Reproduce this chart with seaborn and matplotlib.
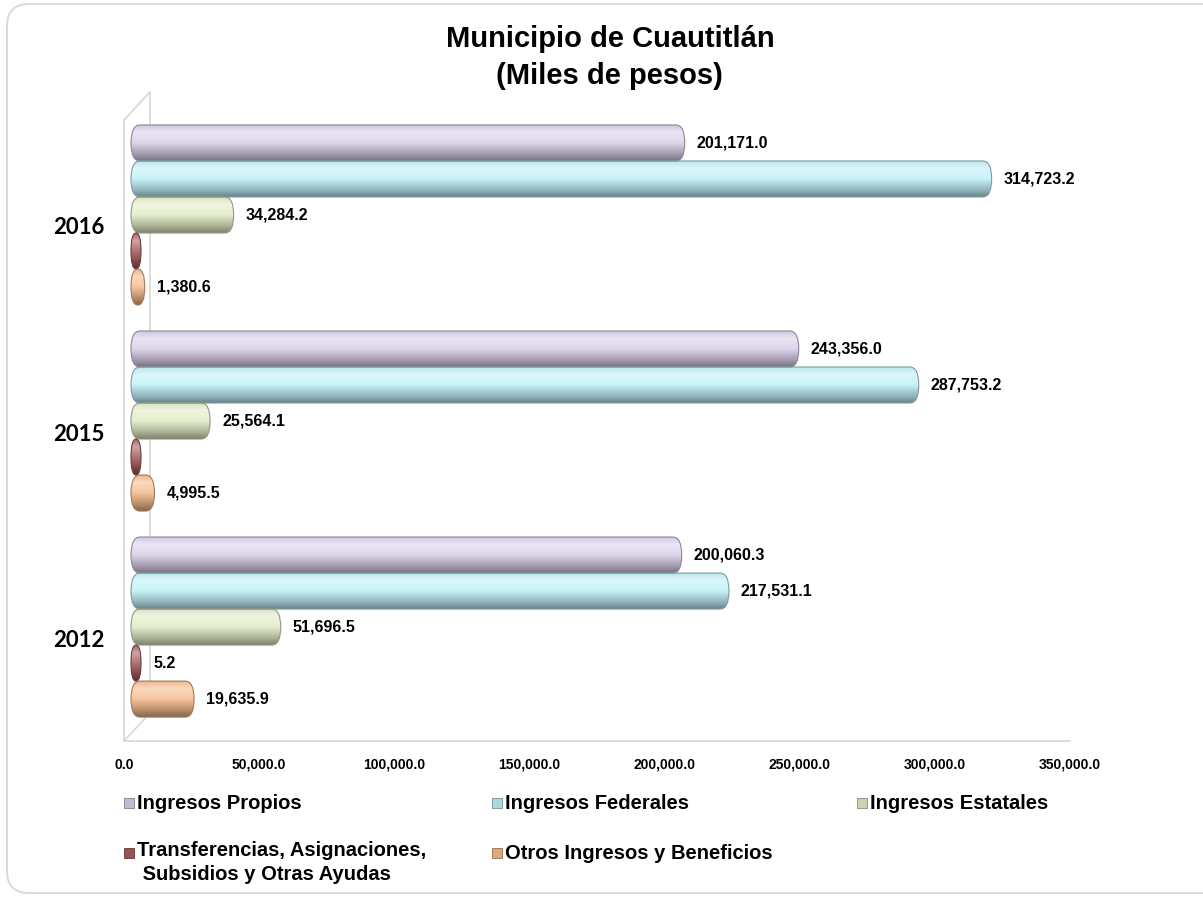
import numpy as np
import pandas as pd
import matplotlib
matplotlib.use("Agg")
import matplotlib.pyplot as plt
import seaborn as sns
from matplotlib.patches import FancyBboxPatch, Rectangle
from matplotlib.transforms import ScaledTranslation, IdentityTransform
from matplotlib.colors import to_rgb
from matplotlib import font_manager as fm

# ---------------- data ----------------
years = ["2016", "2015", "2012"]
series_names = ["Ingresos Propios", "Ingresos Federales", "Ingresos Estatales",
                "Transferencias, Asignaciones,\n Subsidios y Otras Ayudas",
                "Otros Ingresos y Beneficios"]
propios = [201171.0, 243356.0, 200060.3]
federales = [314723.2, 287753.2, 217531.1]
estatales = [34284.2, 25564.1, 51696.5]
transferencias = [0.0, 0.0, 5.2]
otros = [1380.6, 4995.5, 19635.9]
xticks = [0, 50000, 100000, 150000, 200000, 250000, 300000, 350000]
title_lines = ["Municipio de Cuautitlán", "(Miles de pesos)"]

base_colors = ["#d9cee9", "#bff0f8", "#e2ecc6", "#a65c5e", "#f6bb8c"]

# ---------------- fonts ----------------
sns.set_theme(style="white")

def have(fam):
    try:
        fm.findfont(fm.FontProperties(family=fam), fallback_to_default=False)
        return True
    except Exception:
        return False

narrow = "Liberation Sans Narrow" if have("Liberation Sans Narrow") else "Liberation Sans"
plt.rcParams["font.family"] = ["Liberation Sans", "DejaVu Sans"]
plt.rcParams["text.color"] = "black"
plt.rcParams["xtick.color"] = "black"
plt.rcParams["ytick.color"] = "black"

df = pd.DataFrame({
    "year": np.repeat(years, 5),
    "serie": series_names * 3,
    "value": [v for i in range(3) for v in (propios[i], federales[i], estatales[i],
                                           transferencias[i], otros[i])],
})

W, H = 1203, 897
fig = plt.figure(figsize=(W / 100, H / 100), dpi=100)
fig.patch.set_facecolor("white")

def fx(px):
    return px / W

def fy(py):
    return 1 - py / H

YLIM = (2.553, -0.495)
ax = fig.add_axes([fx(124), fy(741), fx(1070) - fx(124), (741 - 113) / H])
sns.barplot(data=df, y="year", x="value", hue="serie", order=years,
            hue_order=series_names, palette=base_colors, width=0.874,
            orient="h", legend=False, ax=ax, errorbar=None)

ax.set_xlim(0, 350000)
ax.set_ylim(*YLIM)
fig.canvas.draw()

# ---------------- restyle bars as shaded cylinders ----------------
px_per_x = ax.bbox.width / 350000.0
dx_px = 12
off = ScaledTranslation(dx_px / 100, 0, fig.dpi_scale_trans)
trans = ax.transData + off
cap = 5.0 / px_per_x  # cap half-width in data units

def shade(c, f):
    c = np.array(to_rgb(c))
    if f >= 0:
        return c + (1 - c) * f
    return c * (1 + f)

for cont_i, cont in enumerate(ax.containers):
    col = base_colors[cont_i]
    for r in cont:
        x0, y0, w, h = r.get_x(), r.get_y(), r.get_width(), r.get_height()
        r.set_visible(False)
        left = x0 - cap
        width = w + 2 * cap
        rx = min(9.0 / px_per_x, width / 2)
        aspect = (h / 2) / rx
        patch = FancyBboxPatch((left, y0), width, h,
                               boxstyle=f"round,pad=0,rounding_size={rx}",
                               mutation_aspect=aspect, transform=trans,
                               facecolor="none", edgecolor=shade(col, -0.35),
                               linewidth=0.8, zorder=3)
        ax.add_patch(patch)
        stops = [0.0, 0.22, 0.5, 0.82, 1.0]
        fac = [-0.05, 0.45, 0.15, -0.25, -0.45]
        t = np.linspace(0, 1, 60)
        grad = np.zeros((60, 1, 3))
        for k in range(3):
            vals = [shade(col, f)[k] for f in fac]
            grad[:, 0, k] = np.interp(t, stops, vals)
        grad = np.clip(grad, 0, 1)
        im = ax.imshow(grad, extent=[left, left + width, y0 + h, y0],
                       aspect="auto", interpolation="bilinear", zorder=2,
                       origin="upper")
        im.set_transform(trans)
        im.set_clip_path(patch)

ax.set_xlim(0, 350000)
ax.set_ylim(*YLIM)
ax.set_aspect("auto")

# ---------------- value labels ----------------
for cont_i, cont in enumerate(ax.containers):
    for r in cont:
        v = r.get_width()
        if v == 0:
            continue
        yc = r.get_y() + r.get_height() / 2
        ax.annotate(f"{v:,.1f}", xy=(v, yc), xytext=(dx_px + 17, 0),
                    textcoords="offset pixels", va="center", ha="left",
                    fontsize=11.5, fontweight="bold", family=narrow, color="black",
                    zorder=5)

# ---------------- axes styling (3D wall look) ----------------
wall = "#d8d8cf"
for s in ["top", "right", "left"]:
    ax.spines[s].set_visible(False)
ax.spines["bottom"].set_color(wall)
ax.spines["bottom"].set_linewidth(1.2)
ax.set_xticks(xticks)
ax.set_xticklabels([f"{t:,.1f}" for t in xticks])
ax.tick_params(axis="x", direction="in", length=7, color=wall, width=1,
               labelsize=10, pad=12, labelcolor="black")
for lab in ax.get_xticklabels():
    lab.set_fontweight("bold")
    lab.set_family(narrow)
ax.tick_params(axis="y", length=0, pad=14, labelcolor="black")
ax.set_yticks(range(3))
ax.set_yticklabels(years, fontsize=16, fontweight="bold", family="Lato")
ydown = ScaledTranslation(0, -11 / 100, fig.dpi_scale_trans)
for lab in ax.get_yticklabels():
    lab.set_transform(lab.get_transform() + ydown)
ax.set_xlabel("")
ax.set_ylabel("")

bx = 26 / ax.bbox.width
by = 28 / ax.bbox.height
top_front = (741 - 120) / ax.bbox.height
kw = dict(transform=ax.transAxes, color=wall, lw=1.2, clip_on=False, zorder=1)
ax.plot([0, 0], [0, top_front], **kw)
ax.plot([bx, bx], [by, top_front + by], **kw)
ax.plot([0, bx], [top_front, top_front + by], **kw)
ax.plot([0, bx], [0, by], **kw)

# ---------------- title ----------------
fig.text(0.507, fy(39), title_lines[0], ha="center", va="center",
         fontsize=21, fontweight="bold", color="black")
fig.text(0.507, fy(76), title_lines[1], ha="center", va="center",
         fontsize=21, fontweight="bold", color="black")

# ---------------- legend (manual, matched layout) ----------------
leg_pos = [(129, 803), (497, 803), (862, 803), (129, 853), (497, 853)]
for (px, py), name, col in zip(leg_pos, series_names, base_colors):
    sq = Rectangle((fx(px - 5), fy(py + 5)), fx(10), 10 / H,
                   transform=fig.transFigure, facecolor=shade(col, -0.1),
                   edgecolor=shade(col, -0.4), lw=0.6)
    fig.patches.append(sq)
    if "\n" in name:
        fig.text(fx(px + 8), fy(py - 12), name, ha="left", va="top",
                 fontsize=14.5, family=narrow, fontweight="bold",
                 linespacing=1.3, color="black")
    else:
        fig.text(fx(px + 8), fy(py), name, ha="left", va="center",
                 fontsize=14.5, family=narrow, fontweight="bold", color="black")

# ---------------- rounded frame ----------------
frame = FancyBboxPatch((7, 4), 1230, 889, boxstyle="round,pad=0,rounding_size=22",
                       transform=IdentityTransform(), fill=False,
                       edgecolor="#dcdcd4", lw=1.5)
fig.patches.append(frame)

fig.savefig("out.png", dpi=100, facecolor="white")
